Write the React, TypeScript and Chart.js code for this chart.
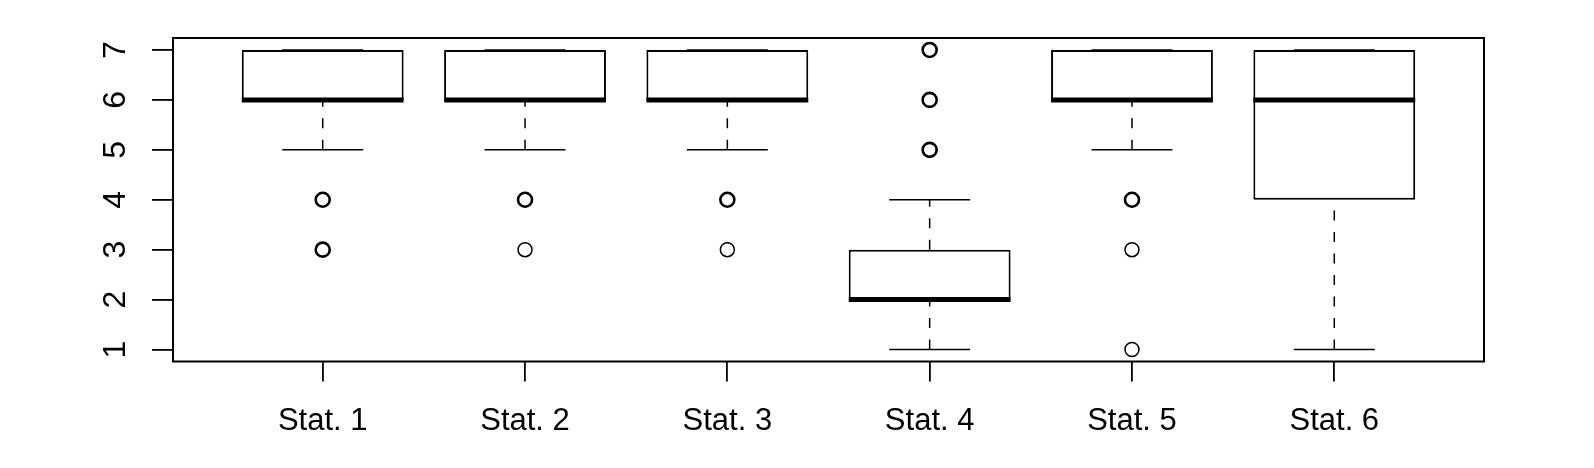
import React, { useEffect, useRef } from 'react';
import { Chart, registerables } from 'chart.js';

Chart.register(...registerables);

// ---- data ----
const categories = ['Stat. 1', 'Stat. 2', 'Stat. 3', 'Stat. 4', 'Stat. 5', 'Stat. 6'];
const lowerWhisker = [5, 5, 5, 1, 5, 1];
const q1 = [6, 6, 6, 2, 6, 4];
const medians = [6, 6, 6, 2, 6, 6];
const q3 = [7, 7, 7, 3, 7, 7];
const upperWhisker = [7, 7, 7, 4, 7, 7];
// outliers: category position (1-based), value, number of overlapping observations
const outlierGroup = [1, 1, 2, 2, 3, 3, 4, 4, 4, 5, 5, 5];
const outlierValue = [4, 3, 4, 3, 4, 3, 7, 6, 5, 4, 3, 1];
const outlierCount = [2, 2, 2, 1, 3, 1, 2, 2, 3, 2, 1, 1];
const yTicks = [1, 2, 3, 4, 5, 6, 7];

const BOX_HALF = 0.4;
const CAP_HALF = 0.2;
const FONT = '"Liberation Sans", Arial, sans-serif';

function segments(pairs: Array<[number, number, number, number]>) {
  const out: Array<{ x: number; y: number | null }> = [];
  pairs.forEach(([x1, y1, x2, y2]) => {
    out.push({ x: x1, y: y1 }, { x: x2, y: y2 }, { x: x2, y: null });
  });
  return out;
}

const framePlugin = {
  id: 'rframe',
  afterDraw(chart: any) {
    const { ctx, chartArea, scales } = chart;
    ctx.save();
    ctx.strokeStyle = '#000';
    ctx.lineWidth = 2;
    ctx.strokeRect(chartArea.left, chartArea.top, chartArea.right - chartArea.left, chartArea.bottom - chartArea.top);
    ctx.fillStyle = '#000';
    ctx.font = `31px ${FONT}`;
    ctx.textAlign = 'center';
    ctx.textBaseline = 'alphabetic';
    categories.forEach((c, i) => {
      ctx.fillText(c, scales.x.getPixelForValue(i + 1), 430);
    });
    ctx.font = `32px ${FONT}`;
    yTicks.forEach((v) => {
      ctx.save();
      ctx.translate(125, scales.y.getPixelForValue(v));
      ctx.rotate(-Math.PI / 2);
      ctx.fillText(String(v), 0, 0);
      ctx.restore();
    });
    ctx.restore();
  },
};

export default function App() {
  const ref = useRef<HTMLCanvasElement | null>(null);
  useEffect(() => {
    if (!ref.current) return;
    const n = categories.length;
    const idx = categories.map((_, i) => i + 1);

    const medianData = segments(idx.map((x, i) => [x - BOX_HALF, medians[i], x + BOX_HALF, medians[i]] as [number, number, number, number]));
    const capData = segments([
      ...idx.map((x, i) => [x - CAP_HALF, lowerWhisker[i], x + CAP_HALF, lowerWhisker[i]] as [number, number, number, number]),
      ...idx.map((x, i) => [x - CAP_HALF, upperWhisker[i], x + CAP_HALF, upperWhisker[i]] as [number, number, number, number]),
    ]);
    const whiskerData = segments([
      ...idx.map((x, i) => [x, lowerWhisker[i], x, q1[i]] as [number, number, number, number]),
      ...idx.map((x, i) => [x, q3[i], x, upperWhisker[i]] as [number, number, number, number]),
    ]);
    const outlierData = outlierGroup.map((g, i) => ({ x: g, y: outlierValue[i] }));
    const boxData = idx.map((x, i) => ({ x, y: [q1[i], q3[i]] }));

    const chart = new Chart(ref.current, {
      type: 'bar',
      data: {
        datasets: [
          {
            type: 'line',
            data: medianData as any,
            borderColor: '#000',
            borderWidth: 5,
            borderCapStyle: 'butt',
            pointRadius: 0,
            spanGaps: false,
            order: 0,
          } as any,
          {
            type: 'scatter',
            data: outlierData,
            pointRadius: 7,
            pointStyle: 'circle',
            pointBackgroundColor: 'rgba(0,0,0,0)',
            pointBorderColor: '#000',
            pointBorderWidth: (c: any) => (outlierCount[c.dataIndex] > 1 ? 2.6 : 1.5),
            order: 1,
          } as any,
          {
            type: 'bar',
            data: boxData as any,
            backgroundColor: '#fff',
            borderColor: '#000',
            borderWidth: 2,
            borderSkipped: false,
            barPercentage: 0.8,
            categoryPercentage: 1,
            order: 2,
          } as any,
          {
            type: 'line',
            data: capData as any,
            borderColor: '#000',
            borderWidth: 1.5,
            pointRadius: 0,
            spanGaps: false,
            order: 3,
          } as any,
          {
            type: 'line',
            data: whiskerData as any,
            borderColor: '#000',
            borderWidth: 1.5,
            borderDash: [10, 11.5],
            pointRadius: 0,
            spanGaps: false,
            order: 4,
          } as any,
        ],
      },
      options: {
        animation: false,
        responsive: false,
        events: [],
        layout: { padding: { top: 38, right: 110, left: 0, bottom: 0 } },
        plugins: { legend: { display: false }, tooltip: { enabled: false } },
        scales: {
          x: {
            type: 'linear',
            min: 0.26,
            max: 0.26 + (n + 0.48),
            offset: false,
            afterBuildTicks: (s: any) => {
              s.ticks = idx.map((v) => ({ value: v }));
            },
            afterFit: (s: any) => {
              s.height = 106.5;
            },
            grid: { offset: false, drawOnChartArea: false, drawTicks: true, tickLength: 20, color: '#000', lineWidth: 1.8 },
            border: { display: false },
            ticks: { display: false },
          },
          y: {
            type: 'linear',
            min: 0.76,
            max: 7.24,
            afterBuildTicks: (s: any) => {
              s.ticks = yTicks.map((v) => ({ value: v }));
            },
            afterFit: (s: any) => {
              s.width = 173;
            },
            grid: { drawOnChartArea: false, drawTicks: true, tickLength: 21, color: '#000', lineWidth: 1.8 },
            border: { display: false },
            ticks: { display: false },
          },
        } as any,
      },
      plugins: [framePlugin],
    });
    return () => chart.destroy();
  }, []);

  return (
    <div style={{ position: 'fixed', left: 0, top: 0, width: 1594, height: 468, background: '#fff' }}>
      <canvas ref={ref} width={1594} height={468} style={{ display: 'block' }} />
    </div>
  );
}
